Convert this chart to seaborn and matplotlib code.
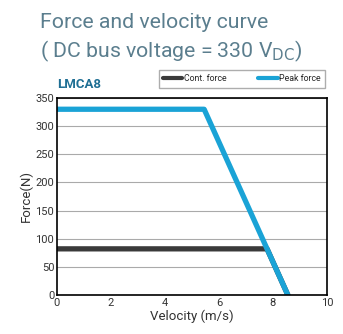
import matplotlib
matplotlib.use("Agg")
import matplotlib.pyplot as plt
import seaborn as sns
import pandas as pd

cont_v = [0, 7.78, 8.55]
cont_f = [82, 82, 0]
peak_v = [0, 5.45, 8.55]
peak_f = [330, 330, 0]
xticks = [0, 2, 4, 6, 8, 10]
yticks = [0, 50, 100, 150, 200, 250, 300, 350]

sns.set_theme(style="white")
plt.rcParams['font.family'] = ['Roboto', 'DejaVu Sans']

fig = plt.figure(figsize=(3.43, 3.34), dpi=100)
ax = fig.add_axes([57/343, 1-295/334, 270/343, 197/334])

df_c = pd.DataFrame({"v": cont_v, "f": cont_f})
df_p = pd.DataFrame({"v": peak_v, "f": peak_f})
sns.lineplot(data=df_c, x="v", y="f", ax=ax, color="#3a3a3a", lw=3.8, sort=False, label="Cont. force")
sns.lineplot(data=df_p, x="v", y="f", ax=ax, color="#1aa3d6", lw=3.8, sort=False, label="Peak force")

ax.set_xlim(0, 10)
ax.set_ylim(0, 350)
ax.set_xticks(xticks)
ax.set_yticks(yticks)
ax.yaxis.grid(True, color="#aaaaaa", lw=0.8)
ax.set_axisbelow(True)
for s in ax.spines.values():
    s.set_color("black")
    s.set_linewidth(1.2)
ax.tick_params(axis="both", labelsize=8, colors="#333333", length=0, pad=2)
ax.set_xlabel("Velocity (m/s)", fontsize=9.5, color="#333333", labelpad=1)
ax.set_ylabel("Force(N)", fontsize=9.5, color="#333333", labelpad=2)

leg = ax.legend(loc="lower right", bbox_to_anchor=(1.01, 1.03), ncol=2, fontsize=6.3,
                frameon=True, fancybox=False, edgecolor="#999999", handlelength=2.2,
                columnspacing=3.6, borderpad=0.5, handletextpad=0.2)
for lh in leg.get_lines():
    lh.set_linewidth(3)

fig.text(40/343, 1-22/334, "Force and velocity curve", fontsize=15.3, color="#5b7e8e", va="center")
fig.text(40/343, 1-51/334, "( DC bus voltage = 330 V$_{\\mathrm{DC}}$)", fontsize=15.3, color="#5b7e8e", va="center")
fig.text(57/343, 1-84/334, "LMCA8", fontsize=9.5, fontweight="bold", color="#1f6f94", va="center")

fig.savefig("out.png", dpi=100)
